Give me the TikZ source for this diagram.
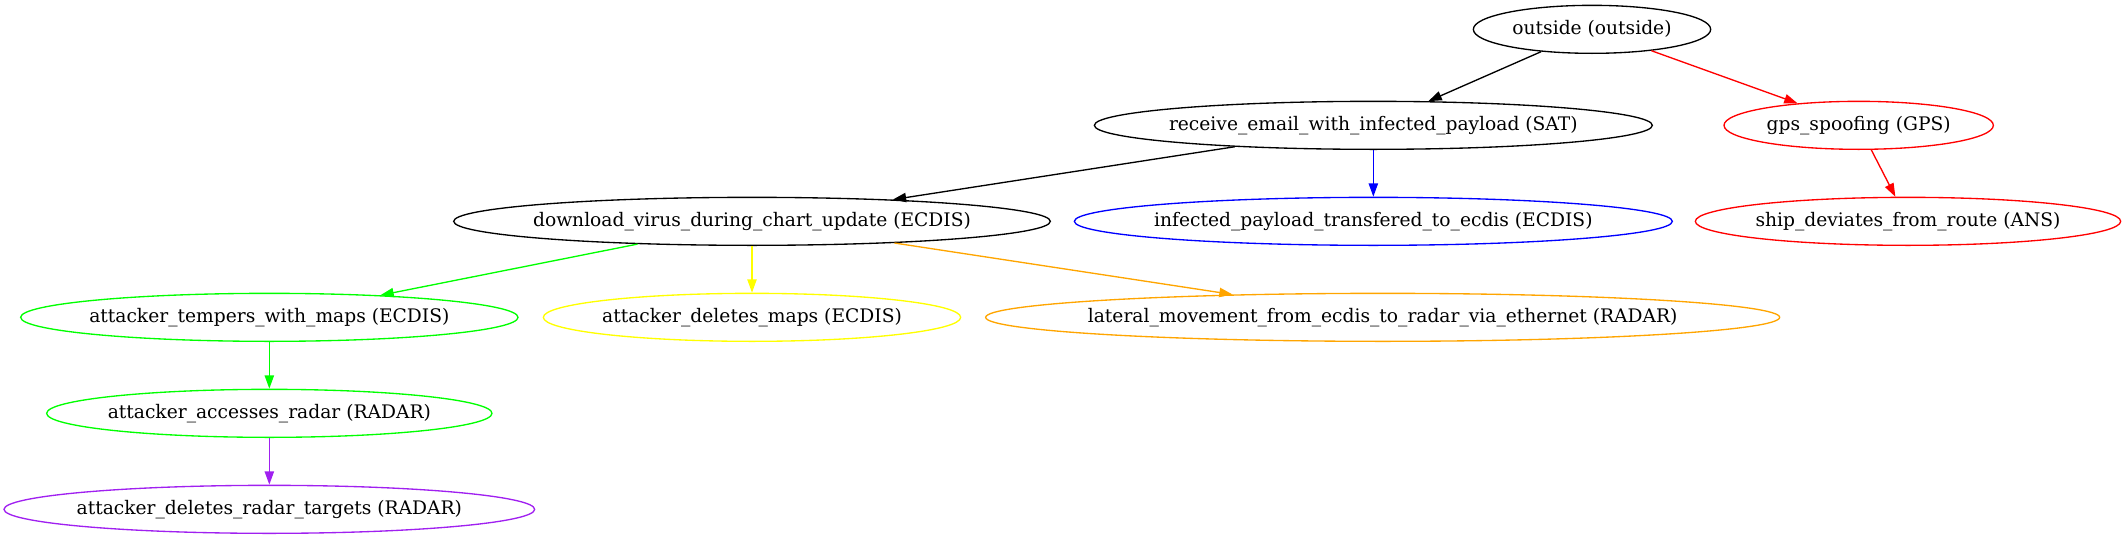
\documentclass[tikz,border=0pt]{standalone}
\usepackage{fontspec}
\setmainfont{DejaVu Serif}
\usetikzlibrary{shapes.geometric,arrows.meta}
% cores dos ramos
\definecolor{gvgreen}{HTML}{00FF00}
\definecolor{gvyellow}{HTML}{FFFF00}
\definecolor{gvorange}{HTML}{FFA500}
\definecolor{gvpurple}{HTML}{A020F0}
\definecolor{gvblue}{HTML}{0000FF}
\definecolor{gvred}{HTML}{FF0000}
\tikzset{
  attack/.style={ellipse, draw=#1, line width=1pt, minimum height=36pt,
    inner xsep=-30pt, inner ysep=0pt, font=\fontsize{14pt}{16pt}\selectfont},
  link/.style={draw=#1, line width=1pt, -{Triangle[length=10pt,width=7pt]}}
}
\begin{document}
\begin{tikzpicture}[x=1pt,y=1pt] %Inicio do desenho
\useasboundingbox (0,0) rectangle (1594.5,-404.25);
	%Nos
\node[attack=black, minimum width=178pt] (outside) at (1194,-22) {outside (outside)};
\node[attack=black, minimum width=418.5pt] (receive) at (1030,-94) {receive\_email\_with\_infected\_payload (SAT)};
\node[attack=gvred, minimum width=202pt] (gps) at (1394,-94) {gps\_spoofing (GPS)};
\node[attack=black, minimum width=447.5pt] (download) at (564,-166) {download\_virus\_during\_chart\_update (ECDIS)};
\node[attack=gvblue, minimum width=448.5pt] (infected) at (1030,-166) {infected\_payload\_transfered\_to\_ecdis (ECDIS)};
\node[attack=gvred, minimum width=319pt] (ship) at (1431,-166) {ship\_deviates\_from\_route (ANS)};
\node[attack=gvgreen, minimum width=373pt] (tempers) at (202,-238) {attacker\_tempers\_with\_maps (ECDIS)};
\node[attack=gvyellow, minimum width=313pt] (delmaps) at (564,-238) {attacker\_deletes\_maps (ECDIS)};
\node[attack=gvorange, minimum width=595.5pt] (lateral) at (1037,-238) {lateral\_movement\_from\_ecdis\_to\_radar\_via\_ethernet (RADAR)};
\node[attack=gvgreen, minimum width=334pt] (radar) at (202,-310) {attacker\_accesses\_radar (RADAR)};
\node[attack=gvpurple, minimum width=398pt] (targets) at (202,-382) {attacker\_deletes\_radar\_targets (RADAR)};
	%Setas
\draw[link=black] (outside) -- (receive);
\draw[link=gvred] (outside) -- (gps);
\draw[link=black] (receive) -- (download);
\draw[link=gvblue] (receive) -- (infected);
\draw[link=gvred] (gps) -- (ship);
\draw[link=gvgreen] (download) -- (tempers);
\draw[link=gvyellow] (download) -- (delmaps);
\draw[link=gvorange] (download) -- (lateral);
\draw[link=gvgreen] (tempers) -- (radar);
\draw[link=gvpurple] (radar) -- (targets);
\end{tikzpicture}
\end{document}
